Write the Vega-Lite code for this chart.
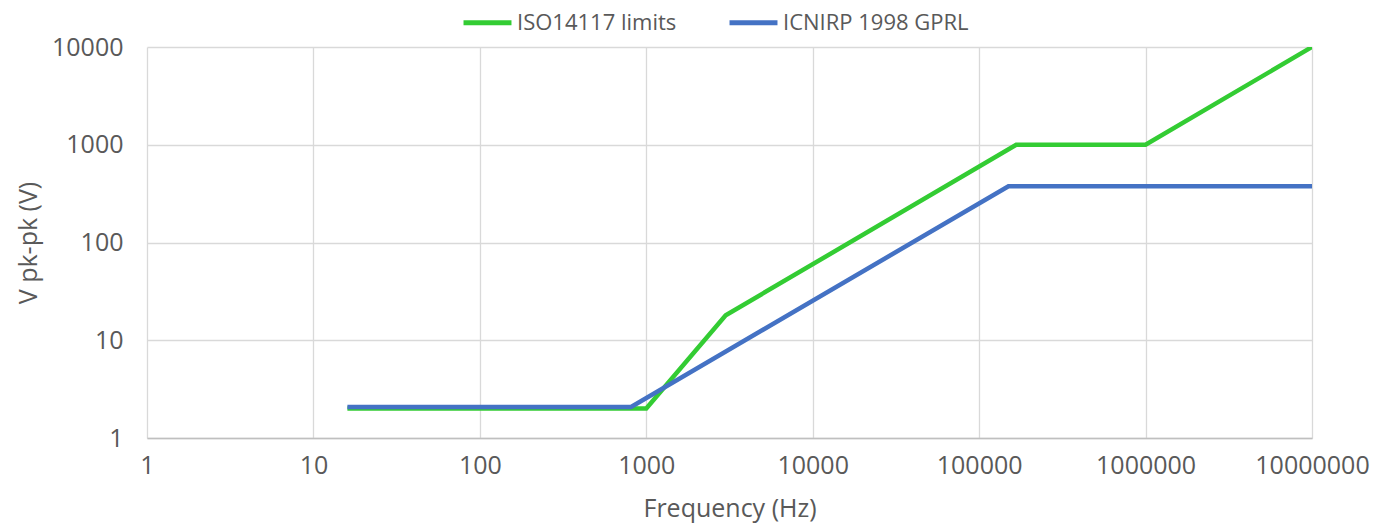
{
  "$schema": "https://vega.github.io/schema/vega-lite/v6.json",
  "autosize": "none",
  "width": 1165,
  "height": 391,
  "padding": {"left": 147, "top": 47, "right": 62, "bottom": 87},
  "background": "white",
  "config": {
    "font": "Open Sans",
    "view": {"stroke": null}
  },
  "data": {
    "values": [
      {"series": "ISO14117 limits", "freq": 16, "v": 2},
      {"series": "ISO14117 limits", "freq": 1000, "v": 2},
      {"series": "ISO14117 limits", "freq": 3000, "v": 18},
      {"series": "ISO14117 limits", "freq": 167000, "v": 1000},
      {"series": "ISO14117 limits", "freq": 1000000, "v": 1000},
      {"series": "ISO14117 limits", "freq": 10000000, "v": 10000},
      {"series": "ICNIRP 1998 GPRL", "freq": 16, "v": 2.08},
      {"series": "ICNIRP 1998 GPRL", "freq": 810, "v": 2.08},
      {"series": "ICNIRP 1998 GPRL", "freq": 150000, "v": 376},
      {"series": "ICNIRP 1998 GPRL", "freq": 10000000, "v": 376}
    ]
  },
  "mark": {"type": "line", "strokeWidth": 4.5, "strokeJoin": "miter", "clip": true},
  "encoding": {
    "x": {
      "field": "freq",
      "type": "quantitative",
      "scale": {"type": "log", "domain": [1, 10000000], "nice": false},
      "axis": {
        "title": "Frequency (Hz)",
        "values": [1, 10, 100, 1000, 10000, 100000, 1000000, 10000000],
        "format": "d",
        "labelFontSize": 25,
        "labelColor": "#595959",
        "labelPadding": 15,
        "labelFlush": false,
        "labelOverlap": false,
        "labelBound": false,
        "ticks": false,
        "domainColor": "#bfbfbf",
        "domainWidth": 1.5,
        "gridColor": "#d9d9d9",
        "gridWidth": 1.3,
        "titleFontSize": 25,
        "titleFontWeight": "normal",
        "titleColor": "#595959",
        "titlePadding": 18
      }
    },
    "y": {
      "field": "v",
      "type": "quantitative",
      "scale": {"type": "log", "domain": [1, 10000], "nice": false},
      "axis": {
        "title": "V pk-pk (V)",
        "values": [1, 10, 100, 1000, 10000],
        "format": "d",
        "labelFontSize": 25,
        "labelColor": "#595959",
        "labelPadding": 24,
        "labelFlush": false,
        "labelOverlap": false,
        "ticks": false,
        "domain": false,
        "gridColor": "#d9d9d9",
        "gridWidth": 1.3,
        "titleFontSize": 25,
        "titleFontWeight": "normal",
        "titleColor": "#595959",
        "titlePadding": 10
      }
    },
    "color": {
      "field": "series",
      "type": "nominal",
      "scale": {"domain": ["ISO14117 limits", "ICNIRP 1998 GPRL"], "range": ["#33cc33", "#4472c4"]},
      "legend": {
        "title": null,
        "orient": "none",
        "direction": "horizontal",
        "legendX": 314,
        "legendY": -51,
        "symbolType": "stroke",
        "symbolStrokeWidth": 5,
        "symbolSize": 2300,
        "labelFontSize": 22,
        "labelLimit": 400,
        "labelColor": "#595959",
        "labelOffset": 3,
        "columnPadding": 42
      }
    }
  }
}
